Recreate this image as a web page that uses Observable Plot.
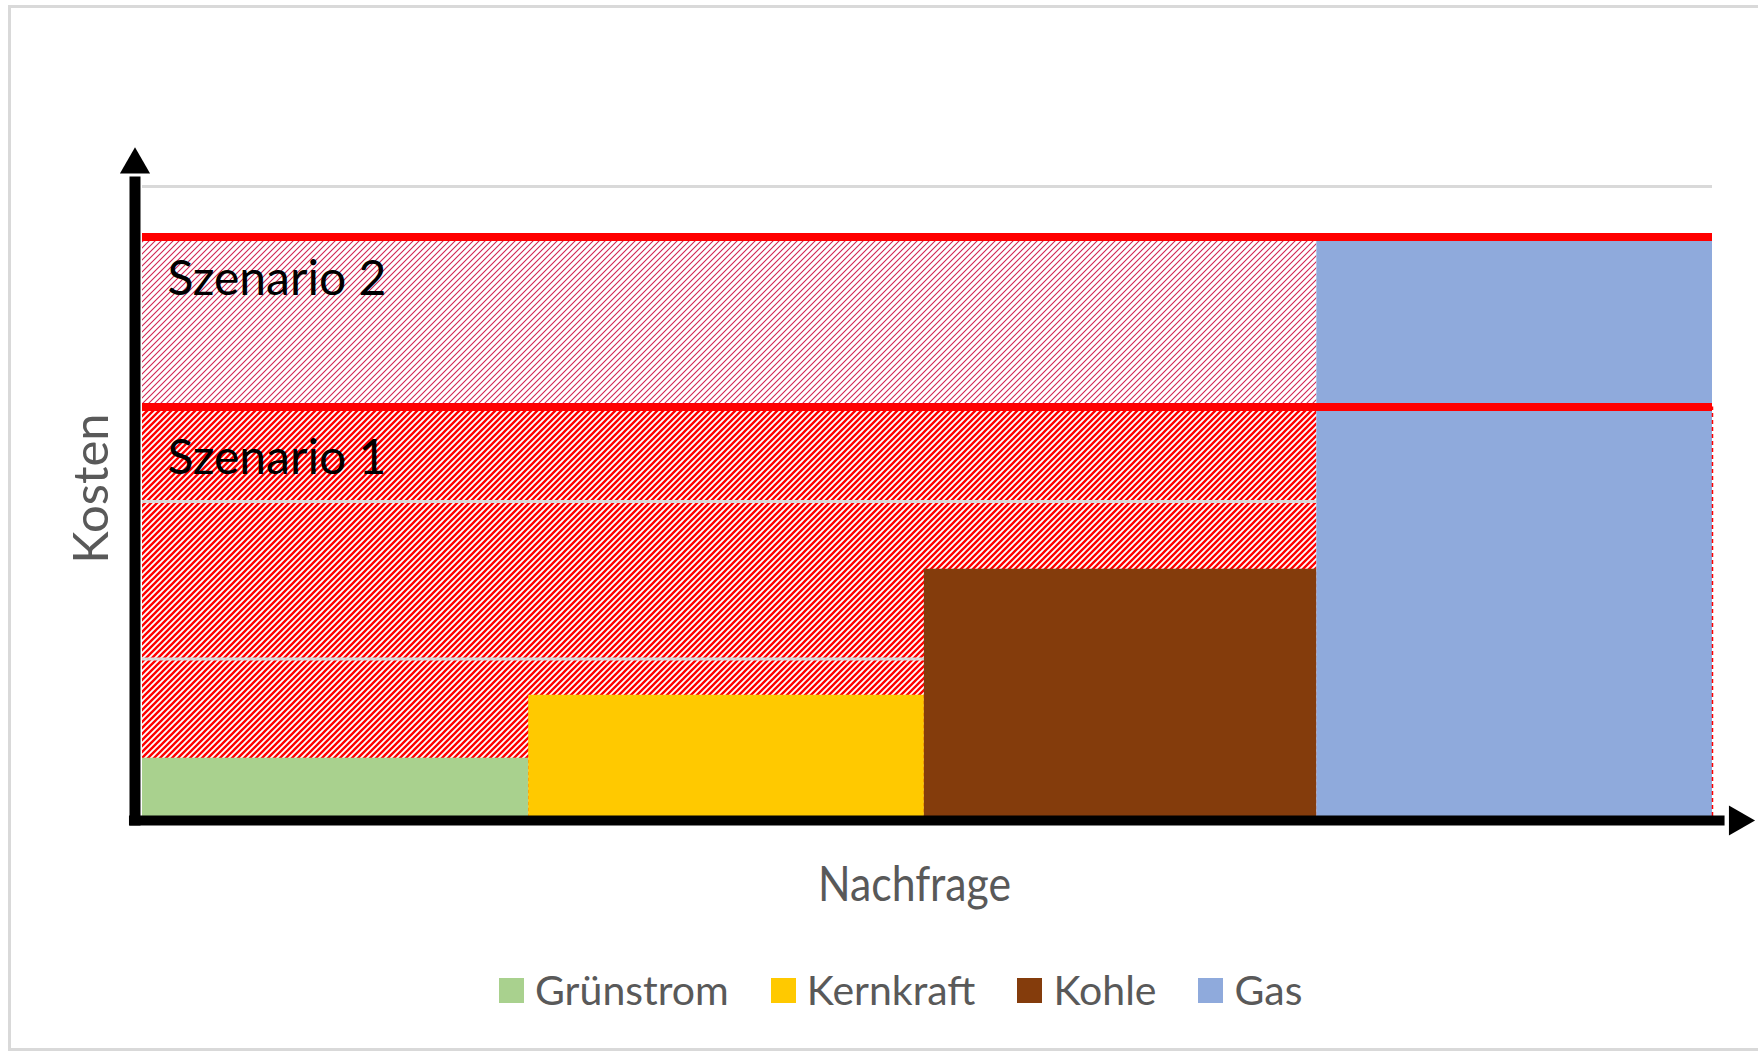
<!DOCTYPE html>
<html>
<head>
<meta charset="utf-8">
<script src="https://cdn.jsdelivr.net/npm/d3@7"></script>
<script src="https://cdn.jsdelivr.net/npm/@observablehq/plot@0.6"></script>
<style>
  html, body { margin: 0; padding: 0; background: #fff; overflow: hidden; }
  #frame { position: absolute; left: 8px; top: 5px; width: 1800px; height: 1046px; border: 3px solid #d9d9d9; box-sizing: border-box; }
  #chart { position: absolute; left: 0; top: 0; }
  #legend { position: absolute; left: 499px; top: 966px; }
  .lg-swatches { font-family: Lato, sans-serif !important; font-size: 41px !important; color: #595959 !important; margin: 0 !important; }
  .lg-swatches-wrap { display: flex !important; align-items: center !important; min-height: 48px !important; flex-wrap: nowrap !important; }
  .lg-swatch { margin-right: 42px !important; display: inline-flex; align-items: center; line-height: 48px; }
  .lg-swatch > svg { margin-right: 11px !important; }
</style>
</head>
<body>
<div id="frame"></div>
<div id="chart"></div>
<div id="legend"></div>
<script>
// ---- data ----
const sources = ["Grünstrom", "Kernkraft", "Kohle", "Gas"];
const demandFrom = [0, 24.6, 49.8, 74.8];
const demandTo = [24.6, 49.8, 74.8, 100];
const cost = [3.7, 7.7, 15.7, 36.8];
const sourceColors = ["#A9D18E", "#FFC900", "#843C0C", "#8FAADC"];

const scenarios = ["Szenario 1", "Szenario 2"];
const scenarioPrice = [26.0, 36.8];
const scenarioLabelCost = [22.7, 34.1];

const gridTicks = [10, 20, 30, 40];
const yMax = 40;
const xMax = 100;

// ---- tables built from the arrays ----
const supply = sources.map((s, i) => ({source: s, from: demandFrom[i], to: demandTo[i], cost: cost[i]}));
const gasStart = demandFrom[sources.indexOf("Gas")];
const scen = scenarios.map((s, i) => ({
  name: s,
  low: i === 0 ? 0 : scenarioPrice[i - 1],
  price: scenarioPrice[i],
  label: scenarioLabelCost[i],
  end: gasStart,
  pattern: i === 0 ? "url(#hatch1)" : "url(#hatch2)"
}));

const W = 1758, H = 940;
const plot = Plot.plot({
  width: W,
  height: H,
  marginLeft: 142,
  marginRight: 46,
  marginTop: 186,
  marginBottom: 124,
  style: {overflow: "visible", fontFamily: "Lato, sans-serif", background: "transparent"},
  x: {domain: [0, xMax], axis: null},
  y: {domain: [0, yMax], axis: null},
  color: {domain: sources, range: sourceColors},
  marks: [
    // Scenario 1 hatch
    Plot.rect(scen.slice(0, 1), {x1: 0, x2: "end", y1: "low", y2: "price", fill: "pattern"}),
    // gridlines
    Plot.ruleY(gridTicks, {stroke: "#d9d9d9", strokeWidth: 3}),
    // Scenario 2 hatch
    Plot.rect(scen.slice(1), {x1: 0, x2: "end", y1: "low", y2: "price", fill: "pattern"}),
    // merit order bars
    Plot.rect(supply, {x1: "from", x2: "to", y1: 0, y2: "cost", fill: "source"}),
    // dashed edge at right of gas
    Plot.ruleX([xMax], {y1: 0, y2: scenarioPrice[0], stroke: "#ff0000", strokeWidth: 1.5, strokeDasharray: "4,3"}),
    // scenario price lines
    Plot.ruleY(scen, {y: "price", stroke: "#ff0000", strokeWidth: 8}),
    // axes shafts
    Plot.ruleX([0], {y1: -0.6, y2: yMax * 1.015, dx: -7.5, stroke: "black", strokeWidth: 11}),
    Plot.ruleY([0], {x1: -0.83, x2: xMax * 1.008, dy: 4, stroke: "black", strokeWidth: 10}),
    // arrow heads
    Plot.dot([0], {x: 0, y: yMax * 1.0345, dx: -7.5, symbol: "triangle", r: 11.2, fill: "black", stroke: null}),
    Plot.dot([0], {x: xMax * 1.016, y: 0, dy: 4, symbol: "triangle", rotate: 90, r: 11.2, fill: "black", stroke: null}),
    // scenario labels
    Plot.text(scen, {x: 0, y: "label", text: "name", textAnchor: "start", lineAnchor: "middle", dx: 25, fontSize: 48, fill: "black"}),
    // axis labels
    Plot.text(["Kosten"], {frameAnchor: "left", textAnchor: "middle", rotate: -90, dx: -50, dy: -13, lineAnchor: "middle", fontSize: 49, fill: "#595959"}),
    Plot.text(["Nachfrage"], {frameAnchor: "bottom", textAnchor: "middle", lineAnchor: "middle", dx: -13, dy: 69, fontSize: 48, fill: "#595959"})
  ]
});

// hatch patterns
const defs = d3.select(plot).insert("defs", ":first-child");
const p1 = defs.append("pattern").attr("id", "hatch1").attr("patternUnits", "userSpaceOnUse")
  .attr("width", 6).attr("height", 6);
p1.append("rect").attr("width", 6).attr("height", 6).attr("fill", "#ffffff");
p1.append("path").attr("d", "M0,6 L6,0 M-1.5,1.5 L1.5,-1.5 M4.5,7.5 L7.5,4.5")
  .attr("stroke", "#ff0000").attr("stroke-width", 2.4);
const p2 = defs.append("pattern").attr("id", "hatch2").attr("patternUnits", "userSpaceOnUse")
  .attr("width", 6).attr("height", 6);
p2.append("rect").attr("width", 6).attr("height", 6).attr("fill", "#ffffff");
p2.append("path").attr("d", "M0,6 L6,0 M-1.5,1.5 L1.5,-1.5 M4.5,7.5 L7.5,4.5")
  .attr("stroke", "#cc0c3e").attr("stroke-width", 1.1).attr("stroke-opacity", 0.9);

d3.select(plot).selectAll("text").filter(function () { return this.textContent === "Nachfrage"; })
  .attr("textLength", 193).attr("lengthAdjust", "spacingAndGlyphs");

document.getElementById("chart").appendChild(plot);

const legend = plot.legend("color", {
  className: "lg",
  swatchSize: 25,
  swatchWidth: 25,
  swatchHeight: 25
});
document.getElementById("legend").appendChild(legend);
</script>
</body>
</html>
